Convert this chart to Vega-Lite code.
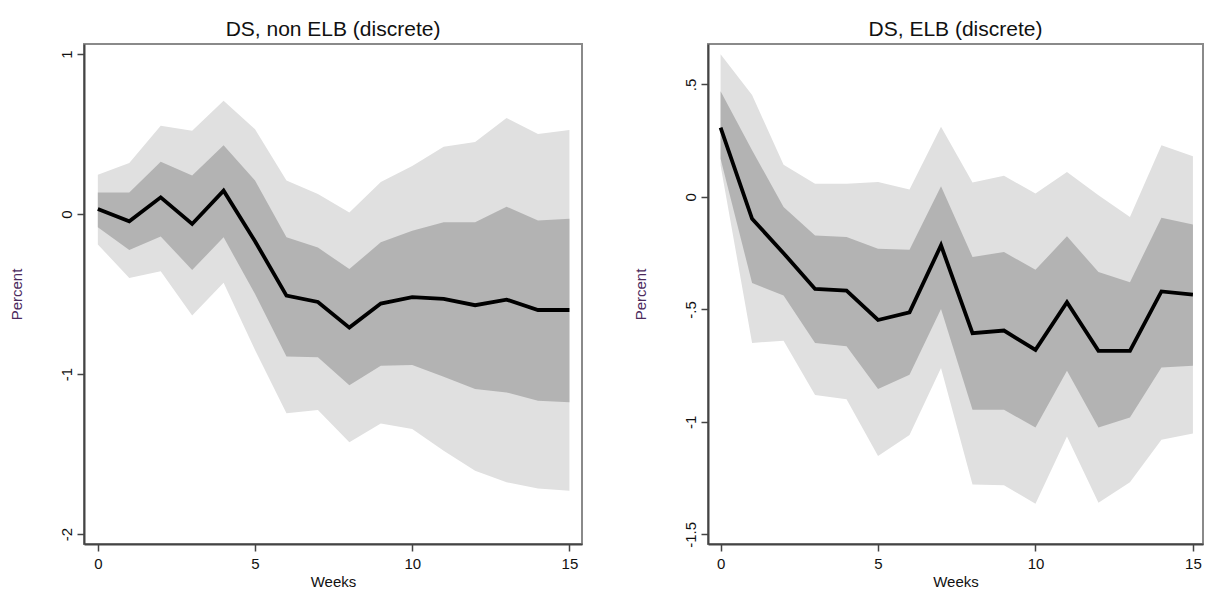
{
  "$schema": "https://vega.github.io/schema/vega-lite/v6.json",
  "background": "white",
  "padding": {"left": 8, "top": 18, "right": 0, "bottom": 0},
  "bounds": "flush",
  "spacing": 126,
  "config": {
    "font": "Liberation Sans",
    "view": {"stroke": "#8a8a8a", "strokeWidth": 2},
    "axis": {
      "grid": false,
      "domainColor": "#444444",
      "domainWidth": 2,
      "tickColor": "#444444",
      "tickWidth": 1.5,
      "tickSize": 7,
      "labelFontSize": 15,
      "labelColor": "#111111",
      "titleFontSize": 15,
      "titleFontWeight": "normal",
      "titleColor": "#111111"
    },
    "axisX": {"labelAngle": 0, "labelPadding": 5, "titleY": 37, "titleBaseline": "middle"},
    "axisY": {
      "labelAngle": -90,
      "labelAlign": "center",
      "labelBaseline": "alphabetic",
      "labelPadding": 6,
      "titleAngle": -90,
      "titleX": -68,
      "titleY": 250,
      "titleAlign": "center",
      "titleBaseline": "middle",
      "titleColor": "#4b2a5c",
      "labelExpr": "replace(toString(datum.value), '0.', '.')"
    },
    "title": {"fontSize": 21, "fontWeight": "normal", "color": "#111111", "offset": 4}
  },
  "datasets": {
    "nonelb": [
      {"week": 0, "irf": 0.031, "lo90": -0.19, "lo68": -0.083, "hi68": 0.135, "hi90": 0.246},
      {"week": 1, "irf": -0.046, "lo90": -0.40, "lo68": -0.225, "hi68": 0.135, "hi90": 0.319},
      {"week": 2, "irf": 0.104, "lo90": -0.358, "lo68": -0.14, "hi68": 0.327, "hi90": 0.552},
      {"week": 3, "irf": -0.0625, "lo90": -0.635, "lo68": -0.35, "hi68": 0.24, "hi90": 0.52},
      {"week": 4, "irf": 0.146, "lo90": -0.43, "lo68": -0.146, "hi68": 0.43, "hi90": 0.708},
      {"week": 5, "irf": -0.17, "lo90": -0.85, "lo68": -0.5, "hi68": 0.21, "hi90": 0.53},
      {"week": 6, "irf": -0.51, "lo90": -1.245, "lo68": -0.89, "hi68": -0.146, "hi90": 0.21},
      {"week": 7, "irf": -0.55, "lo90": -1.225, "lo68": -0.896, "hi68": -0.21, "hi90": 0.125},
      {"week": 8, "irf": -0.71, "lo90": -1.427, "lo68": -1.07, "hi68": -0.344, "hi90": 0.01},
      {"week": 9, "irf": -0.56, "lo90": -1.31, "lo68": -0.948, "hi68": -0.177, "hi90": 0.2},
      {"week": 10, "irf": -0.52, "lo90": -1.344, "lo68": -0.944, "hi68": -0.104, "hi90": 0.30},
      {"week": 11, "irf": -0.53, "lo90": -1.48, "lo68": -1.017, "hi68": -0.052, "hi90": 0.42},
      {"week": 12, "irf": -0.57, "lo90": -1.604, "lo68": -1.094, "hi68": -0.052, "hi90": 0.45},
      {"week": 13, "irf": -0.535, "lo90": -1.677, "lo68": -1.115, "hi68": 0.046, "hi90": 0.60},
      {"week": 14, "irf": -0.60, "lo90": -1.715, "lo68": -1.167, "hi68": -0.04, "hi90": 0.50},
      {"week": 15, "irf": -0.60, "lo90": -1.729, "lo68": -1.177, "hi68": -0.03, "hi90": 0.525}
    ],
    "elb": [
      {"week": 0, "irf": 0.308, "lo90": 0.14, "lo68": 0.17, "hi68": 0.47, "hi90": 0.634},
      {"week": 1, "irf": -0.097, "lo90": -0.649, "lo68": -0.383, "hi68": 0.208, "hi90": 0.453},
      {"week": 2, "irf": -0.25, "lo90": -0.639, "lo68": -0.438, "hi68": -0.045, "hi90": 0.143},
      {"week": 3, "irf": -0.409, "lo90": -0.88, "lo68": -0.649, "hi68": -0.171, "hi90": 0.059},
      {"week": 4, "irf": -0.416, "lo90": -0.899, "lo68": -0.664, "hi68": -0.178, "hi90": 0.059},
      {"week": 5, "irf": -0.547, "lo90": -1.152, "lo68": -0.854, "hi68": -0.23, "hi90": 0.067},
      {"week": 6, "irf": -0.513, "lo90": -1.058, "lo68": -0.79, "hi68": -0.235, "hi90": 0.033},
      {"week": 7, "irf": -0.215, "lo90": -0.761, "lo68": -0.498, "hi68": 0.048, "hi90": 0.312},
      {"week": 8, "irf": -0.606, "lo90": -1.278, "lo68": -0.946, "hi68": -0.267, "hi90": 0.064},
      {"week": 9, "irf": -0.594, "lo90": -1.282, "lo68": -0.946, "hi68": -0.245, "hi90": 0.094},
      {"week": 10, "irf": -0.68, "lo90": -1.364, "lo68": -1.025, "hi68": -0.324, "hi90": 0.015},
      {"week": 11, "irf": -0.468, "lo90": -1.065, "lo68": -0.773, "hi68": -0.175, "hi90": 0.111},
      {"week": 12, "irf": -0.684, "lo90": -1.36, "lo68": -1.025, "hi68": -0.334, "hi90": 0.007},
      {"week": 13, "irf": -0.684, "lo90": -1.268, "lo68": -0.981, "hi68": -0.379, "hi90": -0.089},
      {"week": 14, "irf": -0.42, "lo90": -1.08, "lo68": -0.758, "hi68": -0.092, "hi90": 0.23},
      {"week": 15, "irf": -0.434, "lo90": -1.052, "lo68": -0.75, "hi68": -0.122, "hi90": 0.181}
    ]
  },
  "hconcat": [
    {
      "width": 498,
      "height": 500,
      "title": "DS, non ELB (discrete)",
      "data": {"name": "nonelb"},
      "encoding": {
        "x": {
          "field": "week",
          "type": "quantitative",
          "scale": {"domain": [-0.44, 15.4], "nice": false, "zero": false},
          "axis": {"values": [0, 5, 10, 15], "title": "Weeks"}
        }
      },
      "layer": [
        {
          "mark": {"type": "area", "color": "#e0e0e0"},
          "encoding": {
            "y": {
              "field": "lo90",
              "type": "quantitative",
              "scale": {"domain": [-2.0625, 1.0625], "nice": false, "zero": false},
              "axis": {"values": [-2, -1, 0, 1], "title": "Percent"}
            },
            "y2": {"field": "hi90"}
          }
        },
        {
          "mark": {"type": "area", "color": "#b3b3b3"},
          "encoding": {
            "y": {"field": "lo68", "type": "quantitative", "axis": {"values": [-2, -1, 0, 1], "title": "Percent"}},
            "y2": {"field": "hi68"}
          }
        },
        {
          "mark": {"type": "rule", "color": "#555555", "strokeWidth": 1.5},
          "encoding": {"y": {"datum": 0, "type": "quantitative", "axis": {"values": [-2, -1, 0, 1], "title": "Percent"}}}
        },
        {
          "mark": {"type": "line", "color": "#000000", "strokeWidth": 3.8},
          "encoding": {
            "y": {"field": "irf", "type": "quantitative", "axis": {"values": [-2, -1, 0, 1], "title": "Percent"}}
          }
        }
      ]
    },
    {
      "width": 495,
      "height": 500,
      "title": "DS, ELB (discrete)",
      "data": {"name": "elb"},
      "encoding": {
        "x": {
          "field": "week",
          "type": "quantitative",
          "scale": {"domain": [-0.4, 15.32], "nice": false, "zero": false},
          "axis": {"values": [0, 5, 10, 15], "title": "Weeks"}
        }
      },
      "layer": [
        {
          "mark": {"type": "area", "color": "#e0e0e0"},
          "encoding": {
            "y": {
              "field": "lo90",
              "type": "quantitative",
              "scale": {"domain": [-1.543, 0.68], "nice": false, "zero": false},
              "axis": {"values": [-1.5, -1, -0.5, 0, 0.5], "title": "Percent"}
            },
            "y2": {"field": "hi90"}
          }
        },
        {
          "mark": {"type": "area", "color": "#b3b3b3"},
          "encoding": {
            "y": {"field": "lo68", "type": "quantitative", "axis": {"values": [-1.5, -1, -0.5, 0, 0.5], "title": "Percent"}},
            "y2": {"field": "hi68"}
          }
        },
        {
          "mark": {"type": "rule", "color": "#555555", "strokeWidth": 1.5},
          "encoding": {"y": {"datum": 0, "type": "quantitative", "axis": {"values": [-1.5, -1, -0.5, 0, 0.5], "title": "Percent"}}}
        },
        {
          "mark": {"type": "line", "color": "#000000", "strokeWidth": 3.8},
          "encoding": {
            "y": {"field": "irf", "type": "quantitative", "axis": {"values": [-1.5, -1, -0.5, 0, 0.5], "title": "Percent"}}
          }
        }
      ]
    }
  ]
}
